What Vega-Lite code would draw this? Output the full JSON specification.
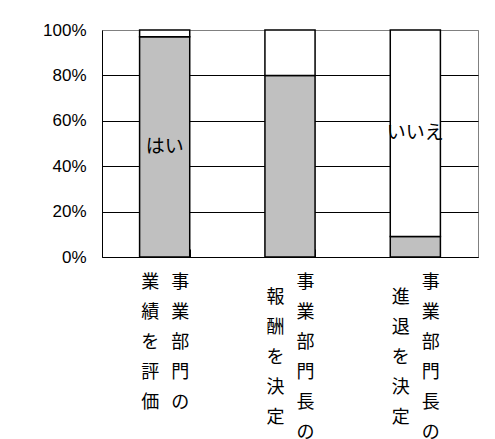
{
  "$schema": "https://vega.github.io/schema/vega-lite/v6.json",
  "autosize": {"type": "none"},
  "width": 376,
  "height": 227,
  "padding": {"left": 102, "top": 30, "right": 17, "bottom": 182},
  "background": "white",
  "config": {
    "view": {"stroke": "#808080", "strokeWidth": 1},
    "font": "Noto Sans CJK JP"
  },
  "data": {
    "values": [
      {"item": "事業部門の業績を評価", "answer": "はい", "pct": 97, "label": "はい"},
      {"item": "事業部門の業績を評価", "answer": "いいえ", "pct": 3, "label": ""},
      {"item": "事業部門長の報酬を決定", "answer": "はい", "pct": 80, "label": ""},
      {"item": "事業部門長の報酬を決定", "answer": "いいえ", "pct": 20, "label": ""},
      {"item": "事業部門長の進退を決定", "answer": "はい", "pct": 9, "label": ""},
      {"item": "事業部門長の進退を決定", "answer": "いいえ", "pct": 91, "label": "いいえ"}
    ]
  },
  "encoding": {
    "x": {
      "field": "item",
      "type": "nominal",
      "sort": null,
      "scale": {"paddingInner": 0.6, "paddingOuter": 0.3},
      "axis": {
        "title": null,
        "labelAngle": 0,
        "tickBand": "extent",
        "tickSize": -8,
        "tickColor": "black",
        "domainColor": "black",
        "domainWidth": 1,
        "labelFont": "Noto Sans CJK JP",
        "labelFontSize": 18,
        "labelColor": "black",
        "labelLineHeight": 15,
        "labelBaseline": "top",
        "labelPadding": 24,
        "labelOverlap": false,
        "labelExpr": "datum.value === '事業部門の業績を評価' ? ['\u200b業\u2004\u2004事\u200b', '\u200b', '\u200b績\u2004\u2004業\u200b', '\u200b', '\u200bを\u2004\u2004部\u200b', '\u200b', '\u200b評\u2004\u2004門\u200b', '\u200b', '\u200b価\u2004\u2004の\u200b'] : datum.value === '事業部門長の報酬を決定' ? ['\u200b\u3000\u2004\u2004事\u200b', '\u200b報\u2004\u2004\u3000\u200b', '\u200b\u3000\u2004\u2004業\u200b', '\u200b酬\u2004\u2004\u3000\u200b', '\u200b\u3000\u2004\u2004部\u200b', '\u200bを\u2004\u2004\u3000\u200b', '\u200b\u3000\u2004\u2004門\u200b', '\u200b決\u2004\u2004\u3000\u200b', '\u200b\u3000\u2004\u2004長\u200b', '\u200b定\u2004\u2004\u3000\u200b', '\u200b\u3000\u2004\u2004の\u200b'] : datum.value === '事業部門長の進退を決定' ? ['\u200b\u3000\u2004\u2004事\u200b', '\u200b進\u2004\u2004\u3000\u200b', '\u200b\u3000\u2004\u2004業\u200b', '\u200b退\u2004\u2004\u3000\u200b', '\u200b\u3000\u2004\u2004部\u200b', '\u200bを\u2004\u2004\u3000\u200b', '\u200b\u3000\u2004\u2004門\u200b', '\u200b決\u2004\u2004\u3000\u200b', '\u200b\u3000\u2004\u2004長\u200b', '\u200b定\u2004\u2004\u3000\u200b', '\u200b\u3000\u2004\u2004の\u200b'] : ''"
      }
    },
    "y": {
      "field": "pct",
      "type": "quantitative",
      "stack": "normalize",
      "axis": {
        "title": null,
        "values": [0, 0.2, 0.4, 0.6, 0.8, 1],
        "format": "%",
        "grid": true,
        "gridColor": {"condition": {"test": "datum.value >= 1", "value": "#808080"}, "value": "black"},
        "gridWidth": 1,
        "ticks": false,
        "domainColor": "black",
        "labelFont": "Liberation Sans",
        "labelFontSize": 17,
        "labelColor": "black",
        "labelPadding": 16
      }
    },
    "order": {"field": "answer", "sort": "descending"}
  },
  "layer": [
    {
      "mark": {"type": "bar", "stroke": "black", "strokeWidth": 1.5},
      "encoding": {
        "color": {
          "field": "answer",
          "type": "nominal",
          "scale": {"domain": ["はい", "いいえ"], "range": ["#c0c0c0", "#ffffff"]},
          "legend": null
        },
        "fillOpacity": {"value": 1}
      }
    },
    {
      "mark": {"type": "text", "fontSize": 19, "color": "black", "font": "Noto Sans CJK JP"},
      "encoding": {
        "y": {"field": "pct", "type": "quantitative", "stack": "normalize", "bandPosition": 0.5},
        "text": {"field": "label"}
      }
    }
  ]
}
